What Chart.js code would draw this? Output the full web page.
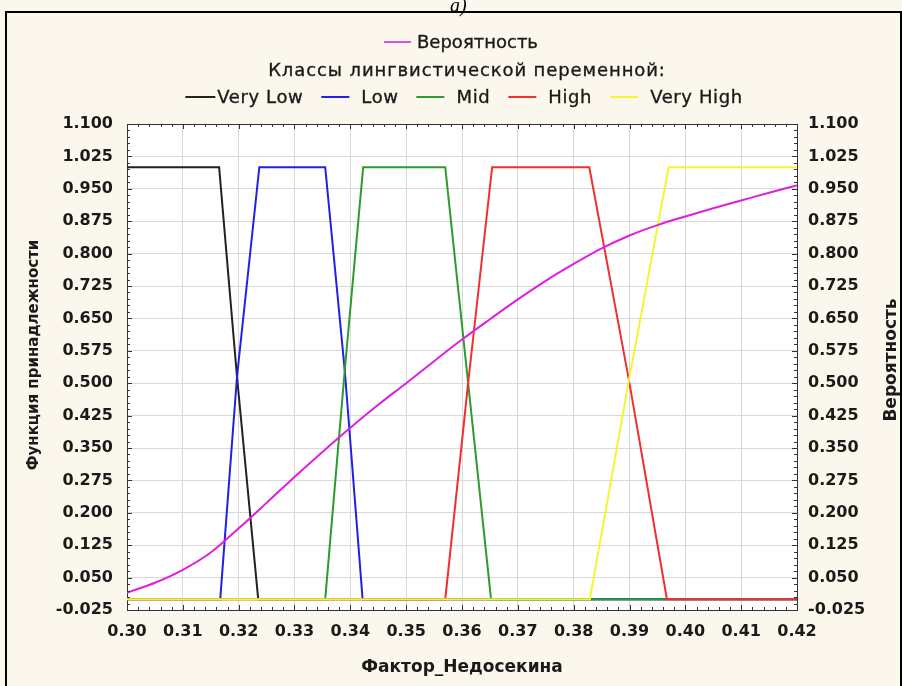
<!DOCTYPE html>
<html><head><meta charset="utf-8">
<script src="https://cdn.jsdelivr.net/npm/chart.js@4.4.1/dist/chart.umd.min.js"></script>
<style>
html,body{margin:0;padding:0;width:902px;height:686px;overflow:hidden;background:#fbf7ec;}
#wrap{position:relative;width:902px;height:686px;}
#frame{position:absolute;left:5px;top:11px;width:897px;height:700px;border:2px solid #000;box-sizing:border-box;}
#cap{position:absolute;left:450px;top:-5px;font:italic 20px "Liberation Serif",serif;line-height:20px;color:#000;z-index:2;}
canvas{position:absolute;left:0;top:0;}
.row{position:absolute;transform:translateX(-50%);white-space:nowrap;font:18px "DejaVu Sans",sans-serif;line-height:20px;color:#1a1a1a;-webkit-text-stroke:0.35px #1a1a1a;display:flex;align-items:center;}
.sw{display:inline-block;height:2px;margin-right:6px;}
.it{display:flex;align-items:center;margin-right:18px;}
.it:last-child{margin-right:0;}
</style></head>
<body><div id="wrap">
<div id="frame"></div>
<canvas id="c" width="902" height="686"></canvas>
<div id="cap">a)</div>
<div class="row" style="left:461px;top:32px"><span class="sw" style="width:27px;background:#e050e0"></span><span>Вероятность</span></div>
<div class="row" style="left:467px;top:60px;letter-spacing:0.9px"><span>Классы лингвистической переменной:</span></div>
<div class="row" id="row3" style="left:464px;top:87px;letter-spacing:0.6px"></div>
</div>
<script>
// ---- data ----
const xTicks = [0.30,0.31,0.32,0.33,0.34,0.35,0.36,0.37,0.38,0.39,0.40,0.41,0.42];
const yTicks = [-0.025,0.050,0.125,0.200,0.275,0.350,0.425,0.500,0.575,0.650,0.725,0.800,0.875,0.950,1.025,1.100];

const classNames = ['Very Low','Low','Mid','High','Very High'];
const probName = 'Вероятность';

const veryLowX = [0.30, 0.3165, 0.3197, 0.3235, 0.42];
const veryLowY = [1, 1, 0.515, 0, 0];
const lowX = [0.30, 0.3167, 0.3197, 0.3237, 0.3355, 0.3390, 0.3422, 0.42];
const lowY = [0, 0, 0.515, 1, 1, 0.53, 0, 0];
const midX = [0.30, 0.3355, 0.3390, 0.3423, 0.3570, 0.3611, 0.3652, 0.42];
const midY = [0, 0, 0.53, 1, 1, 0.50, 0, 0];
const highX = [0.30, 0.3570, 0.3611, 0.3654, 0.3828, 0.3899, 0.3967, 0.42];
const highY = [0, 0, 0.50, 1, 1, 0.507, 0, 0];
const veryHighX = [0.30, 0.3829, 0.3899, 0.3970, 0.42];
const veryHighY = [0, 0, 0.507, 1, 1];

const probX = [0.300,0.305,0.310,0.315,0.320,0.325,0.330,0.335,0.340,0.345,0.350,0.355,0.360,0.365,0.370,0.375,0.380,0.385,0.390,0.395,0.400,0.405,0.410,0.415,0.420];
const probY = [0.015,0.038,0.068,0.108,0.164,0.223,0.283,0.341,0.397,0.450,0.500,0.551,0.601,0.648,0.694,0.737,0.776,0.812,0.842,0.866,0.886,0.905,0.923,0.941,0.958];

// ---- styles ----
const classColors = ['#222222','#2020e8','#2e9b2e','#ee3030','#f5f534'];
const probColor = '#e01ee0';
const FONT = 'DejaVu Sans';

function pts(xs, ys){ return xs.map((x,i)=>({x:x, y:ys[i]})); }

// HTML legend row 3
const row3 = document.getElementById('row3');
classNames.forEach((n,i)=>{
  const it = document.createElement('span'); it.className='it';
  const sw = document.createElement('span'); sw.className='sw';
  sw.style.width = (i===0?30:28)+'px'; sw.style.background = classColors[i];
  sw.style.marginRight = (i===0?'2px':'12px');
  const t = document.createElement('span'); t.textContent = n;
  it.appendChild(sw); it.appendChild(t); row3.appendChild(it);
});

const classData = [[veryLowX,veryLowY],[lowX,lowY],[midX,midY],[highX,highY],[veryHighX,veryHighY]];
const datasets = classData.map((d,i)=>({
  label: classNames[i], data: pts(d[0], d[1]), borderColor: classColors[i],
  borderWidth: 2, pointRadius: 0, tension: 0, yAxisID: 'y', order: 5 - i
}));
datasets.push({label: probName, data: pts(probX, probY), borderColor: probColor, borderWidth: 2,
  pointRadius: 0, cubicInterpolationMode: 'monotone', yAxisID: 'y2', order: 0});

const tickFont = {family: FONT, size: 16, weight: 'bold'};

const framePlugin = {
  id: 'frame',
  beforeDraw(chart){
    const {ctx, chartArea:a} = chart;
    ctx.save(); ctx.fillStyle = '#ffffff';
    ctx.fillRect(a.left, a.top, a.right - a.left, a.bottom - a.top);
    ctx.restore();
  },
  afterDraw(chart){
    const {ctx, chartArea:a, scales} = chart;
    ctx.save();
    ctx.strokeStyle = '#333'; ctx.lineWidth = 1;
    ctx.beginPath(); ctx.moveTo(a.left, a.top + 0.5); ctx.lineTo(a.right, a.top + 0.5); ctx.stroke();
    // minor ticks
    ctx.beginPath();
    for (let k = 0; k <= 60; k++){
      const v = 0.30 + k*0.002; const px = Math.round(scales.x.getPixelForValue(v)) + 0.5;
      const L = (k%5===0) ? 5 : 3;
      ctx.moveTo(px, a.bottom); ctx.lineTo(px, a.bottom - L);
      ctx.moveTo(px, a.top); ctx.lineTo(px, a.top + L);
    }
    for (let k = 0; k <= 75; k++){
      const v = -0.025 + k*0.015; const py = Math.round(scales.y.getPixelForValue(v)) + 0.5;
      const L = (k%5===0) ? 5 : 3;
      ctx.moveTo(a.left, py); ctx.lineTo(a.left + L, py);
      ctx.moveTo(a.right, py); ctx.lineTo(a.right - L, py);
    }
    ctx.stroke();
    // vertical axis titles (both read bottom-to-top)
    ctx.fillStyle = '#1a1a1a'; ctx.textAlign = 'center'; ctx.textBaseline = 'middle';
    ctx.font = 'bold 15px "' + FONT + '"';
    ctx.translate(34, 355); ctx.rotate(-Math.PI/2); ctx.fillText('Функция принадлежности', 0, 0);
    ctx.setTransform(1,0,0,1,0,0);
    ctx.font = 'bold 17px "' + FONT + '"';
    ctx.translate(892, 360); ctx.rotate(-Math.PI/2); ctx.fillText('Вероятность', 0, 0);
    ctx.restore();
  }
};

new Chart(document.getElementById('c'), {
  type: 'line',
  data: { datasets },
  options: {
    responsive: false, animation: false, devicePixelRatio: 1,
    layout: { padding: { top: 124, left: 0, right: 0, bottom: 0 } },
    plugins: { legend: { display: false }, tooltip: { enabled: false } },
    scales: {
      x: {
        type: 'linear', min: 0.30, max: 0.42,
        afterBuildTicks: s => { s.ticks = xTicks.map(v => ({value: v})); },
        afterFit: s => { s.height = 76; },
        ticks: { callback: v => Number(v).toFixed(2), font: tickFont, color: '#1a1a1a', padding: 12, autoSkip: false, maxRotation: 0 },
        grid: { color: '#d9d9d9', drawTicks: false },
        border: { color: '#333', width: 1 },
        title: { display: true, text: 'Фактор_Недосекина', color: '#1a1a1a', font: {family: FONT, size: 17, weight: 'bold'}, padding: {top: 0, bottom: 8} }
      },
      y: {
        type: 'linear', position: 'left', min: -0.025, max: 1.1,
        afterBuildTicks: s => { s.ticks = yTicks.map(v => ({value: v})); },
        afterFit: s => { s.width = 127; },
        ticks: { callback: v => Number(v).toFixed(3), font: tickFont, color: '#1a1a1a', padding: 14, autoSkip: false },
        grid: { color: '#d9d9d9', drawTicks: false },
        border: { color: '#333', width: 1 }
      },
      y2: {
        type: 'linear', position: 'right', min: -0.025, max: 1.1,
        afterBuildTicks: s => { s.ticks = yTicks.map(v => ({value: v})); },
        afterFit: s => { s.width = 105; },
        ticks: { callback: v => Number(v).toFixed(3), font: tickFont, color: '#1a1a1a', padding: 11, autoSkip: false },
        grid: { display: false, drawTicks: false },
        border: { color: '#333', width: 1 }
      }
    }
  },
  plugins: [framePlugin]
});
</script>
</body></html>
